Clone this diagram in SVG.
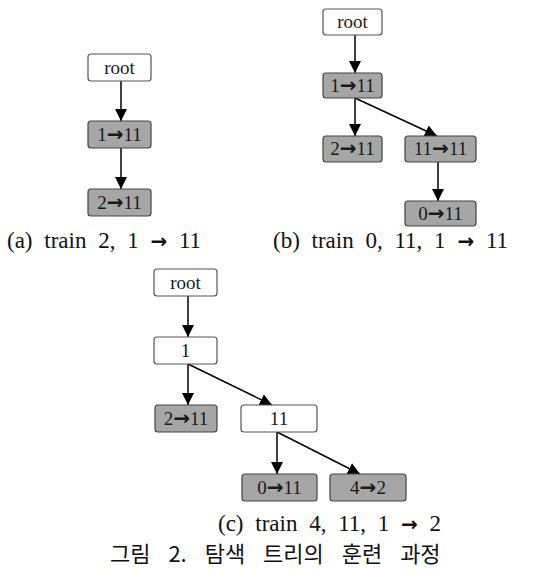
<svg xmlns="http://www.w3.org/2000/svg" width="539" height="569" viewBox="0 0 539 569">
<style>
.w{fill:#ffffff;stroke:#555555;stroke-width:1.2}
.g{fill:#a6a6a6;stroke:#444444;stroke-width:1.2}
.t{font-family:"Liberation Serif",serif;font-size:19px;fill:#1a1a1a;text-anchor:middle}
.ar{font-family:"DejaVu Sans",sans-serif;font-weight:bold;font-size:20px}
.e{stroke:#000;stroke-width:1.5;fill:none;marker-end:url(#ah)}
.cap{font-family:"Liberation Serif","DejaVu Serif",serif;font-size:23px;fill:#111;word-spacing:6px}
.kr{font-family:"Noto Sans CJK KR","Noto Sans CJK SC",sans-serif;font-size:22px;fill:#111;word-spacing:13px}
</style>
<defs>
<marker id="ah" markerUnits="userSpaceOnUse" markerWidth="12" markerHeight="12" viewBox="0 0 12 12" refX="12" refY="6" orient="auto">
<path d="M0,0 L12,6 L0,12 Z" fill="#000"/>
</marker>
</defs>
<rect width="539" height="569" fill="#fff"/>
<g id="connectors">
<line class="e" x1="121" y1="81" x2="121" y2="121"/>
<line class="e" x1="121" y1="148" x2="121" y2="189"/>
<line class="e" x1="355" y1="35" x2="355" y2="73"/>
<line class="e" x1="355" y1="98" x2="355" y2="136"/>
<line class="e" x1="355" y1="98" x2="437" y2="136"/>
<line class="e" x1="438" y1="162" x2="438" y2="201"/>
<line class="e" x1="188" y1="296" x2="188" y2="337"/>
<line class="e" x1="188" y1="364" x2="188" y2="405"/>
<line class="e" x1="188" y1="364" x2="272" y2="405"/>
<line class="e" x1="277" y1="432" x2="277" y2="474"/>
<line class="e" x1="277" y1="432" x2="360" y2="474"/>
</g>
<g id="a_root"><rect class="w" x="88" y="54" width="63" height="27" rx="3"/><text class="t" x="119.5" y="74">root</text></g>
<g id="a_n1"><rect class="g" x="88" y="121" width="63" height="27" rx="3"/><text class="t" x="119.5" y="141">1<tspan class="ar">→</tspan>11</text></g>
<g id="a_n2"><rect class="g" x="88" y="189" width="63" height="27" rx="3"/><text class="t" x="119.5" y="209">2<tspan class="ar">→</tspan>11</text></g>
<g id="b_root"><rect class="w" x="323" y="9" width="59" height="26" rx="3"/><text class="t" x="352.5" y="28">root</text></g>
<g id="b_n1"><rect class="g" x="323" y="73" width="59" height="25" rx="3"/><text class="t" x="352.5" y="92">1<tspan class="ar">→</tspan>11</text></g>
<g id="b_n2"><rect class="g" x="323" y="136" width="59" height="26" rx="3"/><text class="t" x="352.5" y="155">2<tspan class="ar">→</tspan>11</text></g>
<g id="b_n11"><rect class="g" x="405" y="136" width="71" height="26" rx="3"/><text class="t" x="440.5" y="155">11<tspan class="ar">→</tspan>11</text></g>
<g id="b_n0"><rect class="g" x="405" y="201" width="71" height="25" rx="3"/><text class="t" x="440.5" y="220">0<tspan class="ar">→</tspan>11</text></g>
<g id="c_root"><rect class="w" x="154" y="269" width="63" height="27" rx="3"/><text class="t" x="185.5" y="289">root</text></g>
<g id="c_n1"><rect class="w" x="154" y="337" width="63" height="27" rx="3"/><text class="t" x="185.5" y="357">1</text></g>
<g id="c_n2"><rect class="g" x="155" y="405" width="62" height="27" rx="3"/><text class="t" x="186" y="425">2<tspan class="ar">→</tspan>11</text></g>
<g id="c_n11"><rect class="w" x="241" y="405" width="76" height="27" rx="3"/><text class="t" x="279" y="425">11</text></g>
<g id="c_n0"><rect class="g" x="242" y="474" width="75" height="27" rx="3"/><text class="t" x="279.5" y="494">0<tspan class="ar">→</tspan>11</text></g>
<g id="c_n4"><rect class="g" x="330" y="474" width="76" height="27" rx="3"/><text class="t" x="368" y="494">4<tspan class="ar">→</tspan>2</text></g>
<text class="cap" x="7" y="248">(a) train 2, 1 <tspan class="ar" font-size="21">→</tspan> 11</text>
<text class="cap" x="273" y="248">(b) train 0, 11, 1 <tspan class="ar" font-size="21">→</tspan> 11</text>
<text class="cap" x="218" y="531">(c) train 4, 11, 1 <tspan class="ar" font-size="21">→</tspan> 2</text>
<text class="kr" x="110" y="562">그림 2. 탐색 트리의 훈련 과정</text>
</svg>
